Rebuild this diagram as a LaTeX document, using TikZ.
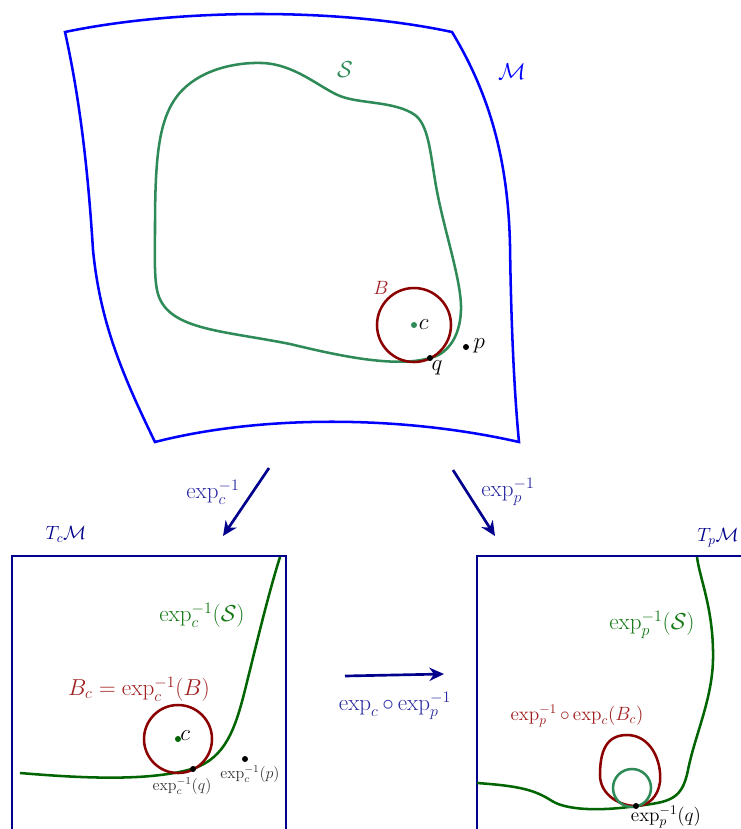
\documentclass[tikz,border=0pt]{standalone}
\usepackage{amsmath}
\usetikzlibrary{arrows.meta}
\definecolor{mblue}{RGB}{0,0,255}
\definecolor{sgreen}{RGB}{46,139,87}
\definecolor{dred}{RGB}{139,0,0}
\definecolor{dgreen}{RGB}{0,100,0}
\definecolor{navyb}{RGB}{0,0,140}
\definecolor{lblue}{RGB}{40,40,160}
\definecolor{lred}{RGB}{160,30,30}
\definecolor{lgreen}{RGB}{20,120,20}
\tikzset{
  surf/.style={mblue, line width=1.9pt},
  scurve/.style={sgreen, line width=1.9pt},
  ball/.style={dred, line width=1.9pt},
  gcurve/.style={dgreen, line width=1.9pt},
  tbox/.style={navyb, line width=1.9pt},
  maparrow/.style={navyb, line width=2pt, -{Stealth[length=11pt,width=10pt]}},
  pt/.style={circle, fill=black, inner sep=0pt, minimum size=4.5pt},
  gpt/.style={circle, fill=sgreen, inner sep=0pt, minimum size=4.5pt},
  ggpt/.style={circle, fill=dgreen, inner sep=0pt, minimum size=4.5pt},
  biglab/.style={font=\LARGE, inner sep=1pt},
  midlab/.style={font=\Large, inner sep=1pt},
  smalllab/.style={font=\large, inner sep=1pt},
}
\begin{document}
\begin{tikzpicture}[x=0.75pt,y=-0.75pt]
\useasboundingbox (0,0) rectangle (741,829);
% manifold M
\draw[surf] (65,32) .. controls (180,8) and (340,8) .. (452,32)
  .. controls (490,95) and (508,160) .. (510,245)
  .. controls (511,320) and (514,390) .. (519,442)
  .. controls (400,415) and (260,415) .. (155,442)
  .. controls (120,370) and (100,320) .. (93,250)
  .. controls (88,170) and (80,100) .. (65,32) -- cycle;
\node[biglab, mblue] (Mlab) at (512,72) {$\mathcal{M}$};
% S
\draw[scurve] (430,358) .. controls (395,368) and (340,356) .. (290,344)
  .. controls (220,330) and (165,330) .. (157,290)
  .. controls (154,275) and (155,250) .. (155,230)
  .. controls (155,160) and (158,120) .. (178,95)
  .. controls (198,70) and (235,62) .. (262,63)
  .. controls (295,64) and (320,88) .. (340,96)
  .. controls (360,104) and (395,101) .. (415,115)
  .. controls (428,125) and (430,150) .. (435,180)
  .. controls (442,225) and (462,280) .. (461,310)
  .. controls (460,340) and (445,355) .. (430,358);
\node[biglab, sgreen] (Slab) at (345,70) {$\mathcal{S}$};
% ball B
\node[ball, draw, circle, minimum size=74*0.75pt, inner sep=0pt] (Bc) at (414,325) {};
\node[gpt] (cdot) at (414,325) {};
\node[biglab, anchor=west] (clab) at (cdot.east) {$c$};
\node[midlab, lred] (Blab) at (381,288) {$B$};
\node[pt] (q) at (430,358) {};
\node[biglab, anchor=north] (qlab) at (437,359) {$q$};
\node[pt] (p) at (466,347) {};
\node[biglab, anchor=west] (plab) at (472,346) {$p$};
% maps down
\coordinate (a1s) at (269,468);
\coordinate (a1e) at (223,536);
\coordinate (a2s) at (453,470);
\coordinate (a2e) at (495,536);
\draw[maparrow] (a1s) -- (a1e);
\draw[maparrow] (a2s) -- (a2e);
\node[biglab, lblue] (l1) at (213,492) {$\exp_c^{-1}$};
\node[biglab, lblue] (l2) at (508,492) {$\exp_p^{-1}$};
% left box
\draw[tbox] (12,829) -- (12,556) -- (286,556) -- (286,829);
\node[midlab, navyb] (TcM) at (66,534) {$T_c\mathcal{M}$};
\draw[gcurve] (20,773) .. controls (80,778) and (150,782) .. (195,768)
  .. controls (225,757) and (235,730) .. (245,690)
  .. controls (255,650) and (268,595) .. (280,557);
\node[biglab, lgreen] (ScL) at (202,615) {$\exp_c^{-1}(\mathcal{S})$};
\node[ball, draw, circle, minimum size=68*0.75pt, inner sep=0pt] (Bcl) at (178,739) {};
\node[ggpt] (c2) at (178,739) {};
\node[biglab, anchor=south west, inner sep=0pt] (c2lab) at (180,741) {$c$};
\node[biglab, lred] (BcL) at (139,689) {$B_c = \exp_c^{-1}(B)$};
\node[pt] (q2) at (193,769) {};
\node[smalllab, anchor=north, black!80] (q2lab) at (182,776) {$\exp_c^{-1}(q)$};
\node[pt] (p2) at (245,759) {};
\node[smalllab, anchor=north, black!80] (p2lab) at (250,764) {$\exp_c^{-1}(p)$};
% middle arrow
\coordinate (m1) at (345,676);
\coordinate (m2) at (444,674);
\draw[maparrow] (m1) -- (m2);
\node[biglab, lblue] (ml) at (395,706) {$\exp_c\circ\exp_p^{-1}$};
% right box
\draw[tbox] (477,829) -- (477,556) -- (741,556);
\node[midlab, navyb] (TpM) at (718,538) {$T_p\mathcal{M}$};
\draw[gcurve] (477,783) .. controls (520,786) and (535,790) .. (552,801)
  .. controls (570,812) and (610,810) .. (636,806)
  .. controls (670,802) and (682,800) .. (688,770)
  .. controls (695,735) and (712,700) .. (713,660)
  .. controls (714,610) and (700,580) .. (697,557);
\node[biglab, lgreen] (SpL) at (652,625) {$\exp_p^{-1}(\mathcal{S})$};
\draw[ball] (636,806) .. controls (620,806) and (600,795) .. (600,775)
  .. controls (600,750) and (607,735) .. (627,735)
  .. controls (650,735) and (662,760) .. (660,782)
  .. controls (658,797) and (648,806) .. (636,806);
\node[draw, sgreen, line width=1.9pt, circle, minimum size=38*0.75pt, inner sep=0pt] (gc) at (632,788) {};
\node[midlab, lred] (BpL) at (577,716) {$\exp_p^{-1}\circ\exp_c(B_c)$};
\node[pt] (q3) at (636,806) {};
\node[midlab, anchor=north] (q3lab) at (666,804) {$\exp_p^{-1}(q)$};
\end{tikzpicture}
\end{document}
